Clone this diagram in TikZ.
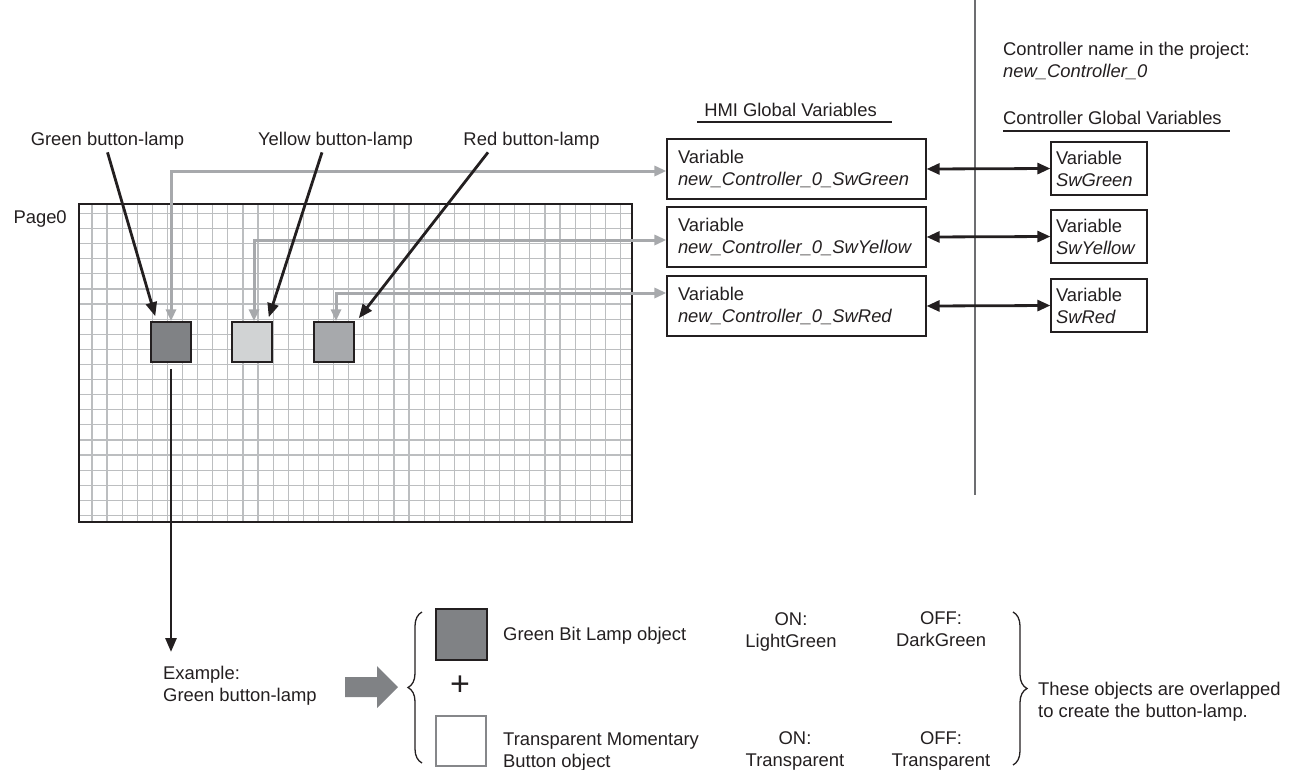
\documentclass[tikz,border=0pt]{standalone}
\usepackage{fontspec}
\setmainfont{Liberation Sans}
\usepackage{tikz}
\usetikzlibrary{arrows.meta, positioning, decorations.pathreplacing, calc}

\definecolor{ink}{HTML}{231F20}
\definecolor{gridgray}{HTML}{BCBEC0}
\definecolor{linkgray}{HTML}{A7A9AC}
\definecolor{sepgray}{HTML}{6D6E71}
\definecolor{lampdark}{HTML}{808285}
\definecolor{lamplight}{HTML}{D1D3D4}
\definecolor{lampmid}{HTML}{A7A9AC}

\begin{document}
\begin{tikzpicture}[x=1pt, y=-1pt,
    every node/.style={font=\fontsize{18.4}{22}\selectfont, text=ink},
    lamp/.style={draw=ink, line width=1.5pt, minimum size=40pt, inner sep=0pt},
    varbox/.style={draw=ink, line width=1.2pt, align=left, inner ysep=0pt},
    pointer/.style={draw=ink, line width=2.8pt, -{Triangle[length=14pt, width=11pt]}},
    link/.style={draw=linkgray, line width=3pt,
        {Triangle[length=12pt, width=10pt]}-{Triangle[length=12pt, width=10pt]}},
    bind/.style={draw=ink, line width=2.8pt,
        {Triangle[length=13pt, width=11pt]}-{Triangle[length=13pt, width=11pt]}},
    curly/.style={draw=ink, line width=1.3pt, decorate, decoration={brace, amplitude=14pt}},
]
    \useasboundingbox (0,0) rectangle (1294,769);

    % Page with grid
    \begin{scope}
        \clip (79,204) rectangle (632,522);
        \foreach \i in {1,...,36}
            \draw[gridgray, line width=1.2pt] (76.8+15.1*\i,204) -- (76.8+15.1*\i,522);
        \foreach \j in {1,...,21}
            \draw[gridgray, line width=1.2pt] (79,198.3+15.1*\j) -- (632,198.3+15.1*\j);
    \end{scope}
    \draw[ink, line width=2.5pt] (79,204) rectangle (632,522);
    \node[anchor=base west] (page) at (10,223) {Page0};

    % Button-lamps
    \node[lamp, fill=lampdark] (lampGreen) at (171,342) {};
    \node[lamp, fill=lamplight] (lampYellow) at (252,342) {};
    \node[lamp, fill=lampmid] (lampRed) at (334,342) {};

    % Labels above the page
    \node[anchor=base] (labGreen) at (107.5,145) {Green button-lamp};
    \node[anchor=base] (labYellow) at (335.5,145) {Yellow button-lamp};
    \node[anchor=base] (labRed) at (531.5,145) {Red button-lamp};

    % HMI Global Variables
    \node[anchor=base] (hmiTitle) at (790.5,116) {HMI Global Variables};
    \draw[ink, line width=1.2pt] (697,122) -- (892,122);
    \node[varbox, text width=237pt, inner xsep=11pt, minimum height=60pt] (hmiGreen) at (796.5,169)
        {Variable\\\textit{new\_Controller\_0\_SwGreen}};
    \node[varbox, text width=237pt, inner xsep=11pt, minimum height=60pt] (hmiYellow) at (796.5,237)
        {Variable\\\textit{new\_Controller\_0\_SwYellow}};
    \node[varbox, text width=237pt, inner xsep=11pt, minimum height=60pt] (hmiRed) at (796.5,306)
        {Variable\\\textit{new\_Controller\_0\_SwRed}};

    % Separator
    \draw[sepgray, line width=1.5pt] (975,0) -- (975,495);

    % Controller side
    \node[anchor=north west, inner sep=0pt, align=left] (ctlName) at (1003,42)
        {Controller name in the project:\\\textit{new\_Controller\_0}};
    \node[anchor=base west, inner sep=0pt] (ctlTitle) at (1003,124) {Controller Global Variables};
    \draw[ink, line width=1.2pt] (1003,131) -- (1230,131);
    \node[varbox, text width=86pt, inner xsep=5pt, minimum height=53pt] (ctlGreen) at (1099,168.5)
        {Variable\\\textit{SwGreen}};
    \node[varbox, text width=86pt, inner xsep=5pt, minimum height=53pt] (ctlYellow) at (1099,236.5)
        {Variable\\\textit{SwYellow}};
    \node[varbox, text width=86pt, inner xsep=5pt, minimum height=53pt] (ctlRed) at (1099,305.5)
        {Variable\\\textit{SwRed}};

    % Links lamp -> HMI variable
    \draw[link] (lampGreen.north) |- ([yshift=-2pt]hmiGreen.west);
    \draw[link] ([xshift=2pt]lampYellow.north) |- ([yshift=-3pt]hmiYellow.west);
    \draw[link] ([xshift=2pt]lampRed.north) |- ([yshift=13pt]hmiRed.west);

    % Pointers from labels
    \draw[pointer] (labGreen.south) -- ([xshift=5pt, yshift=5pt]lampGreen.north west);
    \draw[pointer] ([xshift=-13.5pt]labYellow.south) -- ([xshift=-4pt, yshift=4pt]lampYellow.north east);
    \draw[pointer] ([xshift=-43.5pt]labRed.south) -- ([xshift=4pt, yshift=3pt]lampRed.north east);

    % HMI <-> Controller
    \draw[bind] (hmiGreen.east) -- (ctlGreen.west);
    \draw[bind] (hmiYellow.east) -- (ctlYellow.west);
    \draw[bind] (hmiRed.east) -- (ctlRed.west);

    % Example
    \node[anchor=north west, inner sep=0pt, align=left] (example) at (163,665.5)
        {Example:\\Green button-lamp};
    \draw[pointer] ([yshift=-6pt]lampGreen.south) -- ([yshift=13.5pt]lampGreen.south |- example.north);
    \fill[lampdark] (345,677) -- (377,677) -- (377,666) -- (398,687) -- (377,708) -- (377,697) -- (345,697) -- cycle;

    % Objects making up the button-lamp
    \draw[curly] (422,763) -- (422,612);
    \node[draw=ink, line width=2pt, fill=lampdark, minimum size=51pt, inner sep=0pt] (bitLamp) at (461,634.5) {};
    \node[font=\fontsize{34}{34}\selectfont\fontseries{l}, inner sep=0pt] (plus) at (460,686) {+};
    \node[draw=linkgray!80!black, line width=2pt, fill=white, minimum size=50pt, inner sep=0pt] (momBtn) at (461,741) {};
    \node[anchor=base west, inner sep=0pt] (bitLampText) at (503,640) {Green Bit Lamp object};
    \node[anchor=north west, inner sep=0pt, align=left] (momBtnText) at (503,732.5)
        {Transparent Momentary\\Button object};
    \node[anchor=north, inner sep=0pt, align=center] (bitOn) at (791,612.5) {ON:\\LightGreen};
    \node[anchor=north, inner sep=0pt, align=center] (bitOff) at (941,611.5) {OFF:\\DarkGreen};
    \node[anchor=north, inner sep=0pt, align=center] (btnOn) at (795,731.5) {ON:\\Transparent};
    \node[anchor=north, inner sep=0pt, align=center] (btnOff) at (941,731.5) {OFF:\\Transparent};
    \draw[curly] (1013,612) -- (1013,765);
    \node[anchor=north west, inner sep=0pt, align=left] (overlap) at (1038,681.6)
        {These objects are overlapped\\to create the button-lamp.};
\end{tikzpicture}
\end{document}
